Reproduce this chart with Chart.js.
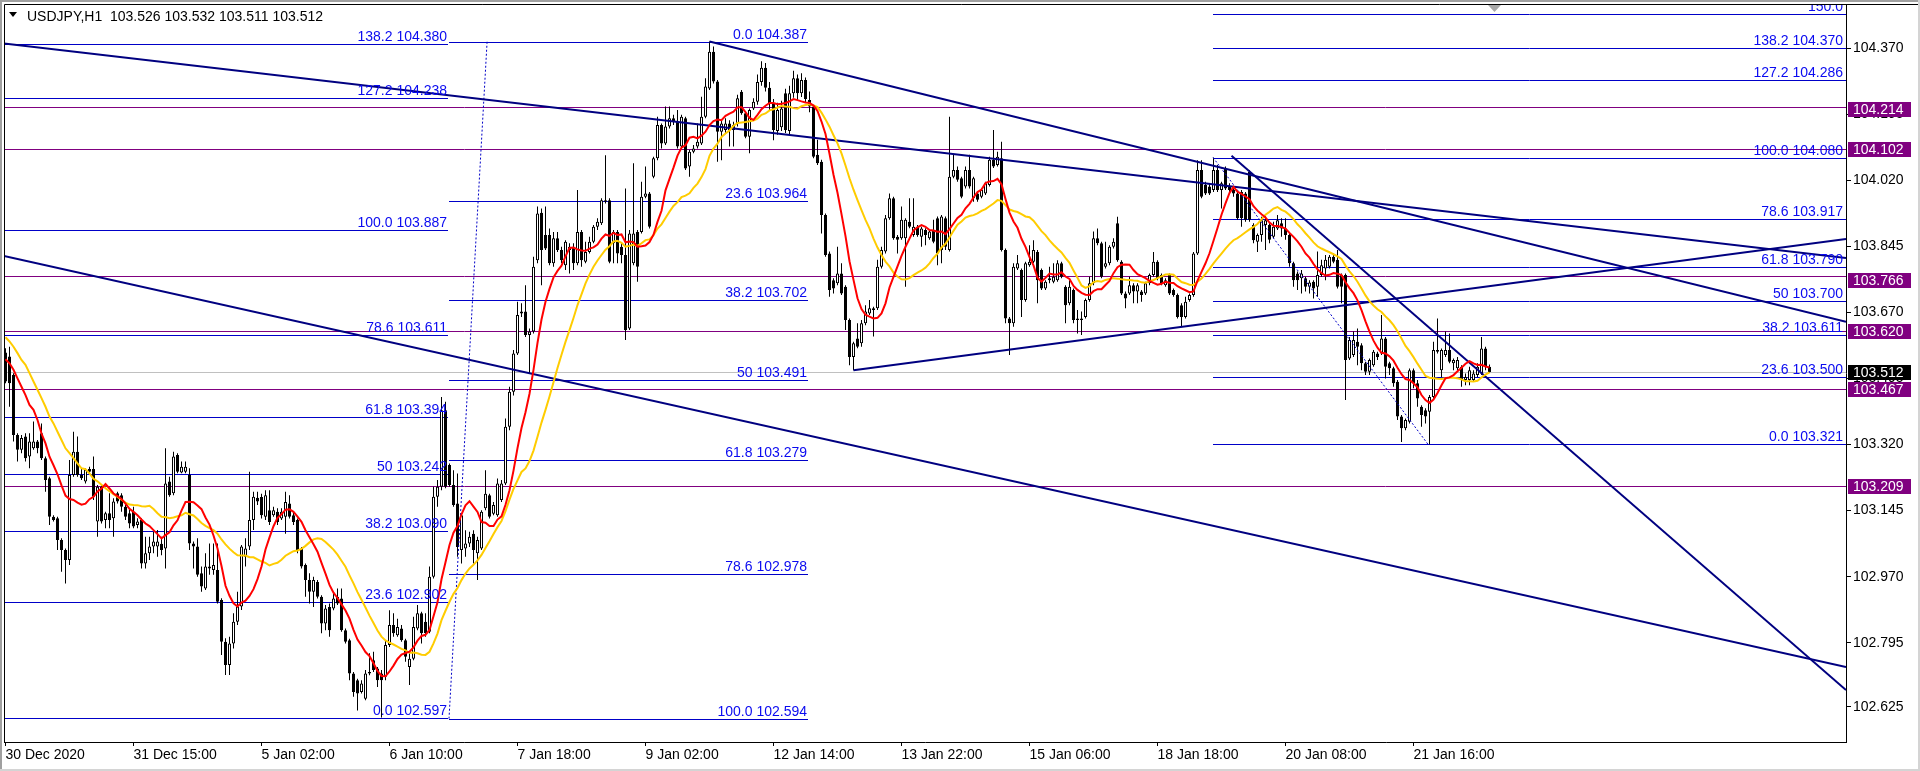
<!DOCTYPE html>
<html lang="en">
<head>
<meta charset="utf-8">
<title>USDJPY,H1</title>
<script src="https://cdn.jsdelivr.net/npm/chart.js@4.4.1/dist/chart.umd.min.js"></script>
<style>
  html, body { margin: 0; padding: 0; background: #ffffff; overflow: hidden; }
  #chart { display: block; }
</style>
</head>
<body>
<canvas id="chart" width="1920" height="771"></canvas>
<script>
// ---------- market data: USDJPY hourly bars ----------
const symbol = 'USDJPY';
const timeframe = 'H1';
const timeLabels = ['30 Dec 2020', '31 Dec 15:00', '5 Jan 02:00', '6 Jan 10:00', '7 Jan 18:00', '9 Jan 02:00',
                    '12 Jan 14:00', '13 Jan 22:00', '15 Jan 06:00', '18 Jan 18:00', '20 Jan 08:00', '21 Jan 16:00'];
const barsPerLabel = 32;

const opens = [
103.564,103.553,103.504,103.345,103.306,103.341,103.288,103.310,103.328,103.350,
103.284,103.231,103.129,103.125,103.067,103.041,103.014,103.239,103.301,103.239,
103.222,103.255,103.255,103.116,103.208,103.120,103.138,103.125,103.191,103.186,
103.155,103.138,103.142,103.107,103.120,103.005,103.032,103.050,103.050,103.057,
103.045,103.222,103.191,103.292,103.246,103.248,103.239,103.058,103.050,102.979,
102.939,102.992,102.988,102.988,102.908,102.798,102.736,102.793,102.851,102.891,
103.023,103.050,103.120,103.179,103.181,103.129,103.146,103.133,103.142,103.124,
103.129,103.164,103.133,103.120,103.045,103.001,102.961,102.930,102.956,102.917,
102.846,102.890,102.886,102.917,102.912,102.828,102.802,102.714,102.696,102.665,
102.647,102.714,102.749,102.727,102.714,102.705,102.789,102.842,102.815,102.833,
102.802,102.731,102.753,102.833,102.873,102.851,102.824,102.970,103.182,103.208,
103.411,103.266,103.213,103.164,103.041,103.045,103.058,103.084,103.032,103.045,
103.151,103.186,103.137,103.133,103.173,103.217,103.367,103.460,103.561,103.667,
103.672,103.610,103.619,103.808,103.934,103.875,103.875,103.800,103.866,103.835,
103.795,103.835,103.844,103.800,103.883,103.804,103.830,103.857,103.897,103.906,
103.963,103.967,103.853,103.883,103.844,103.822,103.627,103.800,103.883,103.883,
103.976,103.985,104.029,104.078,104.166,104.117,104.162,104.184,104.175,104.109,
104.184,104.056,104.095,104.109,104.117,104.188,104.263,104.360,104.281,104.148,
104.153,104.170,104.166,104.170,104.254,104.197,104.135,104.210,104.228,104.280,
104.318,104.265,104.224,104.150,104.160,104.250,104.150,104.250,104.290,104.250,
104.285,104.232,104.215,104.087,104.069,103.928,103.826,103.755,103.747,103.773,
103.738,103.650,103.552,103.601,103.588,103.641,103.667,103.676,103.681,103.791,
103.831,103.919,103.972,103.870,103.866,103.866,103.910,103.875,103.897,103.870,
103.888,103.866,103.888,103.919,103.835,103.919,103.835,104.029,104.047,104.025,
104.003,104.047,103.972,103.985,103.976,103.985,104.007,104.074,104.060,104.078,
103.835,103.654,103.641,103.786,103.782,103.703,103.795,103.804,103.830,103.782,
103.733,103.760,103.751,103.755,103.800,103.738,103.694,103.729,103.654,103.650,
103.658,103.703,103.747,103.866,103.853,103.791,103.800,103.844,103.906,103.804,
103.720,103.720,103.742,103.725,103.725,103.720,103.747,103.769,103.804,103.769,
103.742,103.769,103.729,103.716,103.689,103.658,103.703,103.716,103.826,104.047,
104.007,104.003,103.994,104.047,103.994,104.051,104.003,103.994,103.985,103.989,
103.985,104.042,103.901,103.857,103.875,103.901,103.901,103.870,103.892,103.906,
103.892,103.875,103.800,103.773,103.760,103.760,103.738,103.751,103.738,103.769,
103.786,103.791,103.817,103.809,103.769,103.769,103.548,103.557,103.592,103.583,
103.535,103.513,103.530,103.561,103.561,103.601,103.535,103.522,103.486,103.394,
103.363,103.380,103.517,103.482,103.420,103.411,103.407,103.446,103.570,103.517,
103.557,103.570,103.535,103.522,103.526,103.491,103.491,103.491,103.504,103.508,
103.574,103.526];

const highs = [
103.575,103.579,103.509,103.350,103.345,103.350,103.350,103.381,103.332,103.376,
103.288,103.235,103.133,103.129,103.072,103.045,103.279,103.354,103.341,103.257,
103.257,103.261,103.288,103.213,103.213,103.142,103.191,103.178,103.195,103.191,
103.160,103.147,103.155,103.125,103.125,103.076,103.076,103.089,103.094,103.076,
103.310,103.235,103.301,103.297,103.275,103.275,103.257,103.063,103.072,102.997,
103.032,103.058,103.058,103.058,102.913,102.807,102.811,102.873,102.930,103.054,
103.072,103.248,103.195,103.195,103.190,103.199,103.199,103.155,103.151,103.151,
103.195,103.186,103.142,103.124,103.049,103.005,102.979,102.970,102.961,102.921,
102.895,102.899,102.930,102.939,102.939,102.833,102.806,102.718,102.700,102.696,
102.723,102.767,102.771,102.731,102.723,102.802,102.881,102.873,102.859,102.842,
102.806,102.767,102.864,102.895,102.877,102.873,102.997,103.208,103.226,103.446,
103.433,103.270,103.252,103.243,103.137,103.093,103.089,103.093,103.076,103.146,
103.252,103.190,103.168,103.230,103.226,103.389,103.473,103.570,103.698,103.694,
103.742,103.627,103.817,103.950,103.945,103.950,103.892,103.883,103.883,103.844,
103.861,103.853,103.853,103.994,103.888,103.857,103.870,103.901,103.919,103.972,
104.086,103.972,103.888,103.888,103.853,103.998,103.888,104.065,103.888,104.016,
104.056,103.989,104.082,104.188,104.170,104.215,104.215,104.193,104.206,104.193,
104.188,104.100,104.113,104.170,104.241,104.290,104.387,104.374,104.285,104.179,
104.184,104.179,104.175,104.246,104.259,104.201,104.210,104.237,104.300,104.335,
104.330,104.280,104.235,104.225,104.230,104.262,104.270,104.310,104.300,104.303,
104.292,104.255,104.219,104.127,104.074,103.932,103.831,103.760,103.844,103.800,
103.742,103.654,103.592,103.641,103.650,103.689,103.703,103.685,103.809,103.844,
103.928,103.985,103.976,103.875,103.950,103.919,103.972,103.972,103.901,103.897,
103.893,103.888,103.915,103.924,103.928,103.924,104.188,104.087,104.056,104.029,
104.056,104.087,104.029,103.989,103.998,104.016,104.082,104.153,104.095,104.122,
103.839,103.658,103.800,103.822,103.786,103.804,103.848,103.861,103.835,103.786,
103.755,103.791,103.800,103.808,103.804,103.742,103.755,103.733,103.676,103.672,
103.707,103.764,103.884,103.892,103.857,103.857,103.848,103.866,103.923,103.808,
103.725,103.764,103.747,103.747,103.729,103.751,103.773,103.830,103.808,103.773,
103.760,103.773,103.733,103.720,103.694,103.711,103.720,103.830,104.073,104.073,
104.016,104.012,104.080,104.060,104.016,104.056,104.012,104.003,103.989,103.994,
103.989,104.047,103.906,103.879,103.923,103.928,103.906,103.910,103.928,103.919,
103.919,103.879,103.804,103.778,103.782,103.764,103.755,103.755,103.831,103.809,
103.822,103.822,103.826,103.835,103.773,103.773,103.605,103.619,103.627,103.588,
103.539,103.548,103.570,103.566,103.663,103.605,103.539,103.526,103.491,103.398,
103.389,103.521,103.521,103.491,103.424,103.416,103.451,103.592,103.654,103.574,
103.619,103.614,103.548,103.552,103.530,103.508,103.526,103.517,103.535,103.605,
103.579,103.532];

const lows = [
103.482,103.420,103.328,103.275,103.297,103.275,103.257,103.306,103.297,103.279,
103.195,103.107,103.116,103.041,102.983,102.952,103.001,103.235,103.235,103.226,
103.217,103.244,103.173,103.076,103.111,103.098,103.098,103.076,103.164,103.142,
103.120,103.098,103.098,103.098,102.992,102.992,103.014,103.032,103.023,103.027,
102.992,103.182,103.186,103.244,103.244,103.244,103.041,102.992,102.970,102.930,
102.935,102.975,102.975,102.899,102.763,102.710,102.710,102.780,102.842,102.882,
102.997,103.041,103.094,103.160,103.124,103.120,103.107,103.129,103.107,103.120,
103.084,103.124,103.107,103.032,102.992,102.917,102.899,102.890,102.912,102.820,
102.828,102.811,102.881,102.895,102.824,102.793,102.696,102.652,102.616,102.661,
102.643,102.709,102.718,102.678,102.597,102.696,102.784,102.811,102.811,102.798,
102.745,102.683,102.749,102.828,102.793,102.811,102.820,102.965,103.155,103.199,
103.204,103.208,103.155,103.023,103.005,103.023,103.049,103.005,102.961,103.041,
103.146,103.124,103.133,103.129,103.168,103.213,103.358,103.450,103.557,103.658,
103.605,103.508,103.614,103.800,103.742,103.835,103.795,103.791,103.830,103.800,
103.782,103.773,103.782,103.795,103.791,103.800,103.826,103.853,103.888,103.901,
103.958,103.800,103.800,103.800,103.800,103.597,103.623,103.795,103.751,103.879,
103.972,103.892,104.025,104.073,104.104,104.113,104.157,104.166,104.104,104.104,
104.047,104.029,104.091,104.104,104.113,104.184,104.259,104.276,104.069,104.073,
104.144,104.109,104.109,104.162,104.193,104.131,104.091,104.206,104.220,104.270,
104.255,104.205,104.126,104.140,104.150,104.145,104.140,104.238,104.230,104.240,
104.225,104.200,104.078,104.060,103.879,103.817,103.711,103.720,103.742,103.716,
103.623,103.530,103.517,103.575,103.579,103.636,103.663,103.606,103.676,103.786,
103.826,103.915,103.862,103.826,103.862,103.738,103.893,103.870,103.870,103.844,
103.848,103.862,103.853,103.795,103.800,103.835,103.831,104.025,104.016,103.972,
103.998,103.998,103.963,103.963,103.972,103.981,104.003,104.052,104.056,103.831,
103.641,103.557,103.632,103.782,103.658,103.698,103.791,103.800,103.694,103.729,
103.729,103.747,103.747,103.751,103.760,103.641,103.689,103.641,103.614,103.610,
103.654,103.698,103.742,103.848,103.760,103.786,103.795,103.839,103.804,103.716,
103.681,103.716,103.694,103.694,103.698,103.716,103.742,103.764,103.755,103.742,
103.738,103.716,103.711,103.654,103.632,103.654,103.698,103.711,103.822,103.972,
103.981,103.981,103.989,103.989,103.945,103.994,103.985,103.976,103.915,103.897,
103.910,103.910,103.853,103.830,103.857,103.835,103.853,103.866,103.888,103.870,
103.862,103.791,103.738,103.729,103.720,103.725,103.720,103.707,103.711,103.764,
103.755,103.786,103.800,103.733,103.694,103.438,103.544,103.552,103.530,103.517,
103.504,103.504,103.526,103.544,103.557,103.495,103.504,103.473,103.385,103.327,
103.358,103.376,103.469,103.420,103.367,103.376,103.321,103.442,103.561,103.499,
103.552,103.535,103.517,103.517,103.473,103.477,103.477,103.486,103.499,103.504,
103.517,103.511];

const closes = [
103.487,103.482,103.345,103.306,103.337,103.284,103.328,103.328,103.310,103.284,
103.226,103.129,103.120,103.067,103.041,103.014,103.239,103.301,103.239,103.231,
103.253,103.248,103.182,103.208,103.116,103.138,103.120,103.169,103.169,103.155,
103.129,103.111,103.103,103.116,103.005,103.032,103.050,103.063,103.063,103.041,
103.217,103.186,103.288,103.248,103.261,103.261,103.058,103.050,102.975,102.944,
102.997,102.997,103.001,102.904,102.798,102.736,102.793,102.851,102.891,103.050,
103.045,103.120,103.182,103.169,103.133,103.186,103.115,103.146,103.115,103.142,
103.168,103.129,103.115,103.041,102.997,102.961,102.930,102.961,102.917,102.846,
102.886,102.828,102.912,102.899,102.828,102.798,102.714,102.665,102.661,102.687,
102.714,102.718,102.723,102.696,102.696,102.789,102.842,102.820,102.837,102.802,
102.758,102.753,102.837,102.873,102.820,102.820,102.970,103.182,103.208,103.411,
103.208,103.213,103.160,103.049,103.133,103.058,103.076,103.041,103.067,103.142,
103.190,103.129,103.160,103.217,103.217,103.367,103.460,103.561,103.663,103.672,
103.610,103.619,103.791,103.932,103.835,103.839,103.800,103.866,103.835,103.808,
103.857,103.844,103.800,103.883,103.808,103.830,103.857,103.897,103.910,103.967,
103.967,103.804,103.883,103.826,103.822,103.623,103.879,103.879,103.791,103.976,
103.985,103.897,104.078,104.166,104.117,104.162,104.184,104.175,104.109,104.188,
104.051,104.095,104.104,104.122,104.188,104.268,104.360,104.281,104.148,104.170,
104.170,104.153,104.153,104.237,104.197,104.135,104.206,104.228,104.280,104.318,
104.265,104.224,104.153,104.206,104.210,104.153,104.250,104.290,104.250,104.285,
104.235,104.215,104.082,104.065,103.928,103.822,103.729,103.733,103.773,103.720,
103.650,103.552,103.588,103.579,103.641,103.672,103.681,103.681,103.791,103.835,
103.919,103.972,103.866,103.862,103.915,103.915,103.897,103.897,103.875,103.892,
103.875,103.884,103.857,103.826,103.924,103.844,104.029,104.047,104.021,103.976,
104.047,104.003,104.025,103.968,103.994,104.012,104.074,104.056,104.082,103.835,
103.654,103.641,103.791,103.800,103.703,103.800,103.804,103.835,103.755,103.733,
103.751,103.755,103.764,103.800,103.764,103.689,103.738,103.650,103.650,103.654,
103.703,103.747,103.866,103.853,103.764,103.800,103.844,103.857,103.808,103.720,
103.707,103.742,103.725,103.742,103.716,103.747,103.769,103.804,103.760,103.747,
103.755,103.720,103.716,103.658,103.658,103.698,103.716,103.826,104.047,103.976,
103.985,103.985,104.047,103.994,104.012,103.998,103.994,103.985,103.919,103.919,
103.915,103.915,103.861,103.875,103.914,103.914,103.862,103.897,103.914,103.892,
103.875,103.800,103.755,103.755,103.773,103.738,103.749,103.733,103.769,103.795,
103.809,103.817,103.804,103.738,103.738,103.544,103.597,103.597,103.579,103.535,
103.513,103.544,103.566,103.552,103.601,103.526,103.522,103.482,103.394,103.363,
103.385,103.517,103.482,103.442,103.398,103.394,103.446,103.570,103.566,103.570,
103.570,103.539,103.544,103.544,103.491,103.499,103.517,103.508,103.526,103.574,
103.526,103.512];

// moving averages: the opening values come from before the first visible bar
const fastPeriod = 10;
const slowPeriod = 21;
const fastLead = [103.546,103.535,103.518,103.495,103.473,103.451,103.425,103.412,103.385];
const slowLead = [103.604,103.593,103.579,103.562,103.544,103.531,103.509,103.487,103.465,103.443,
                  103.420,103.394,103.376,103.354,103.332,103.310,103.297,103.284,103.270,103.257];

// price axis
const priceTicks = [104.370, 104.195, 104.020, 103.845, 103.670, 103.495, 103.320, 103.145, 102.970, 102.795, 102.625];

// Fibonacci retracements (level text, level price, bar span)
const fibALevels = ['138.2', '127.2', '100.0', '78.6', '61.8', '50', '38.2', '23.6', '0.0'];
const fibAPrices = [104.380, 104.238, 103.887, 103.611, 103.394, 103.242, 103.090, 102.902, 102.597];
const fibASpan = [-0.375, 110.6];

const fibBLevels = ['0.0', '23.6', '38.2', '50', '61.8', '78.6', '100.0'];
const fibBPrices = [104.387, 103.964, 103.702, 103.491, 103.279, 102.978, 102.594];
const fibBSpan = [110.875, 200.6];
const fibBRay = [[110.875, 102.594], [120.4, 104.387]];

const fibCLevels = ['150.0', '138.2', '127.2', '100.0', '78.6', '61.8', '50', '38.2', '23.6', '0.0'];
const fibCPrices = [104.460, 104.370, 104.286, 104.080, 103.917, 103.790, 103.700, 103.611, 103.500, 103.321];
const fibCSpan = [301.9, 460.125];
const fibCRay = [[301.9, 104.080], [355.6, 103.321]];

// horizontal support / resistance levels
const levelPrices = [104.214, 104.102, 103.766, 103.620, 103.467, 103.209];

// trend lines: [bar index, price] pairs
const trendLines = [
  [[-0.375, 104.382], [460.125, 103.814]],
  [[176, 104.387], [460.125, 103.645]],
  [[212, 103.517], [460.125, 103.864]],
  [[306.5, 104.085], [460.125, 102.670]],
  [[-0.375, 103.819], [460.125, 102.731]]
];

// ---------- drawing ----------
const FONT = "'Liberation Sans', Arial, sans-serif";
const X_MIN = -0.375, X_MAX = 460.125;
const Y_MAX = 104.48651, Y_MIN = 102.53232;
const FIB_LINE = '#0000c8';
const FIB_TEXT = '#0a0af0';
const LEVEL = '#800080';
const TREND = '#000080';

function movingAverage(values, period, lead) {
  return values.map((v, i) => {
    if (i < lead.length) return lead[i];
    let s = 0;
    for (let k = i - period + 1; k <= i; k++) s += values[k];
    return s / period;
  });
}

const idx = closes.map((_, i) => i);
const fastMA = movingAverage(closes, fastPeriod, fastLead);
const slowMA = movingAverage(closes, slowPeriod, slowLead);

function lineSet(points, color, width, dash, order) {
  return {
    type: 'line',
    data: points.map(p => ({ x: p[0], y: p[1] })),
    borderColor: color, borderWidth: width, borderDash: dash || [],
    pointRadius: 0, pointHoverRadius: 0, fill: false, tension: 0,
    borderCapStyle: 'butt', order
  };
}

const datasets = [
  lineSet(idx.map(i => [i, fastMA[i]]), '#ff0000', 2, null, 0),
  lineSet(idx.map(i => [i, slowMA[i]]), '#ffcc00', 2, null, 1),
  ...trendLines.map(t => lineSet(t, TREND, 2, null, 2)),
  lineSet(fibBRay, FIB_LINE, 1, [2, 2], 3),
  lineSet(fibCRay, FIB_LINE, 1, [2, 2], 3),
  {
    type: 'bar',
    data: idx.map(i => ({ x: i, y: [Math.min(opens[i], closes[i]), Math.max(opens[i], closes[i])] })),
    backgroundColor: idx.map(i => closes[i] >= opens[i] ? '#ffffff' : '#000000'),
    borderColor: '#000000', borderWidth: 1, borderSkipped: false,
    barThickness: 3, minBarLength: 1, grouped: false, inflateAmount: 0, order: 6
  },
  {
    type: 'bar',
    data: idx.map(i => ({ x: i, y: [lows[i], highs[i]] })),
    backgroundColor: '#000000', borderWidth: 0,
    barThickness: 1, grouped: false, inflateAmount: 0, order: 7
  }
];

function hLine(ctx, xs, ys, fromIdx, toIdx, price, color) {
  const y = Math.round(ys.getPixelForValue(price)) + 0.5;
  ctx.strokeStyle = color;
  ctx.lineWidth = 1;
  ctx.beginPath();
  ctx.moveTo(Math.round(xs.getPixelForValue(fromIdx)), y);
  ctx.lineTo(Math.round(xs.getPixelForValue(toIdx)), y);
  ctx.stroke();
}

function fibLines(ctx, xs, ys, prices, span) {
  prices.forEach(p => hLine(ctx, xs, ys, span[0], span[1], p, FIB_LINE));
}

function fibTexts(ctx, xs, ys, levels, prices, span, area) {
  const xr = Math.min(Math.round(xs.getPixelForValue(span[1])), area.right - 2) - 1;
  ctx.fillStyle = FIB_TEXT;
  ctx.textAlign = 'right';
  ctx.textBaseline = 'alphabetic';
  levels.forEach((lv, k) => {
    const y = Math.round(ys.getPixelForValue(prices[k])) - 3;
    const txt = lv === '150.0' ? lv : lv + ' ' + prices[k].toFixed(3);
    ctx.fillText(txt, xr, y);
  });
}

function priceTag(ctx, ys, price, fill, shift) {
  const left = ys.left + 2;
  const y = Math.round(ys.getPixelForValue(price)) + shift;
  ctx.fillStyle = fill;
  ctx.fillRect(left, y - 7, 63, 15);
  ctx.fillStyle = '#ffffff';
  ctx.textAlign = 'left';
  ctx.textBaseline = 'middle';
  ctx.fillText(price.toFixed(3), left + 5, y + 1);
}

const terminalDecor = {
  id: 'terminalDecor',
  beforeDraw(chart) {
    const { ctx, width, height } = chart;
    ctx.save();
    ctx.fillStyle = '#ffffff';
    ctx.fillRect(0, 0, width, height);
    ctx.fillStyle = '#a0a0a0';
    ctx.fillRect(0, 0, width, 2);
    ctx.fillRect(0, 0, 2, height);
    ctx.fillStyle = '#d4d4d4';
    ctx.fillRect(0, height - 2, width, 2);
    ctx.fillRect(width - 2, 0, 2, height);
    ctx.restore();
  },
  beforeDatasetsDraw(chart) {
    const { ctx, chartArea: a, scales: { x: xs, y: ys } } = chart;
    ctx.save();
    ctx.beginPath();
    ctx.rect(a.left, a.top, a.right - a.left, a.bottom - a.top);
    ctx.clip();
    hLine(ctx, xs, ys, X_MIN, X_MAX, closes[closes.length - 1], '#c0c0c0');
    levelPrices.forEach(p => hLine(ctx, xs, ys, X_MIN, X_MAX, p, LEVEL));
    fibLines(ctx, xs, ys, fibAPrices, fibASpan);
    fibLines(ctx, xs, ys, fibBPrices, fibBSpan);
    fibLines(ctx, xs, ys, fibCPrices, fibCSpan);
    ctx.restore();
  },
  afterDatasetsDraw(chart) {
    const { ctx, chartArea: a, scales: { x: xs, y: ys } } = chart;
    ctx.save();
    ctx.beginPath();
    ctx.rect(a.left, a.top, a.right - a.left, a.bottom - a.top);
    ctx.clip();
    ctx.font = '14px ' + FONT;
    fibTexts(ctx, xs, ys, fibALevels, fibAPrices, fibASpan, a);
    fibTexts(ctx, xs, ys, fibBLevels, fibBPrices, fibBSpan, a);
    fibTexts(ctx, xs, ys, fibCLevels, fibCPrices, fibCSpan, a);
    // chart-shift marker after the last bar
    const sx = Math.round(xs.getPixelForValue(closes.length)) + 0.5;
    ctx.fillStyle = '#a8a8a8';
    ctx.beginPath();
    ctx.moveTo(sx - 6.5, a.top + 1);
    ctx.lineTo(sx + 6.5, a.top + 1);
    ctx.lineTo(sx, a.top + 8);
    ctx.closePath();
    ctx.fill();
    ctx.restore();

    // frame of the plotting area (left and top edges)
    ctx.save();
    ctx.strokeStyle = '#000000';
    ctx.lineWidth = 1;
    ctx.beginPath();
    ctx.moveTo(a.left + 0.5, a.bottom);
    ctx.lineTo(a.left + 0.5, a.top + 0.5);
    ctx.lineTo(chart.width - 2, a.top + 0.5);
    ctx.stroke();
    ctx.restore();
  },
  afterDraw(chart) {
    const { ctx, scales: { y: ys } } = chart;
    ctx.save();
    ctx.font = '14px ' + FONT;
    // symbol header with the last bar's OHLC
    const last = closes.length - 1;
    ctx.fillStyle = '#000000';
    ctx.beginPath();
    ctx.moveTo(9, 12); ctx.lineTo(17, 12); ctx.lineTo(13, 17); ctx.closePath(); ctx.fill();
    ctx.textAlign = 'left';
    ctx.textBaseline = 'alphabetic';
    ctx.fillText(symbol + ',' + timeframe + '  ' + opens[last].toFixed(3) + ' ' + highs[last].toFixed(3) + ' ' +
                 lows[last].toFixed(3) + ' ' + closes[last].toFixed(3), 27, 21);
    // price tags on the axis
    const tagShift = { 104.214: 2, 103.766: 4 };
    levelPrices.forEach(p => priceTag(ctx, ys, p, LEVEL, tagShift[p] || 0));
    priceTag(ctx, ys, closes[last], '#000000', 0);
    ctx.restore();
  }
};

new Chart(document.getElementById('chart'), {
  type: 'line',
  data: { datasets },
  options: {
    responsive: false,
    animation: false,
    devicePixelRatio: 1,
    events: [],
    layout: { padding: { left: 4, top: 4, right: 0, bottom: 0 } },
    plugins: { legend: { display: false }, tooltip: { enabled: false }, title: { display: false } },
    scales: {
      x: {
        type: 'linear', position: 'bottom', min: X_MIN, max: X_MAX, offset: false,
        afterBuildTicks: s => { s.ticks = timeLabels.map((_, k) => ({ value: k * barsPerLabel })); },
        afterFit: s => { s.height = 29; s.paddingLeft = 0; s.paddingRight = 0; },
        ticks: {
          autoSkip: false, maxRotation: 0, minRotation: 0, align: 'start', padding: 1,
          color: '#000000', font: { family: FONT, size: 14 },
          callback: v => timeLabels[Math.round(v / barsPerLabel)]
        },
        grid: { drawOnChartArea: false, drawTicks: true, tickLength: 4, color: '#000000', offset: false },
        border: { display: true, color: '#000000', width: 1 }
      },
      y: {
        type: 'linear', position: 'right', min: Y_MIN, max: Y_MAX,
        afterBuildTicks: s => { s.ticks = priceTicks.map(v => ({ value: v })); },
        afterFit: s => { s.width = 74; s.paddingTop = 0; s.paddingBottom = 0; },
        ticks: {
          padding: 2, color: '#000000', font: { family: FONT, size: 14 },
          callback: v => Number(v).toFixed(3)
        },
        grid: { drawOnChartArea: false, drawTicks: true, tickLength: 5, color: '#000000' },
        border: { display: true, color: '#000000', width: 1 }
      }
    }
  },
  plugins: [terminalDecor]
});
</script>
</body>
</html>
